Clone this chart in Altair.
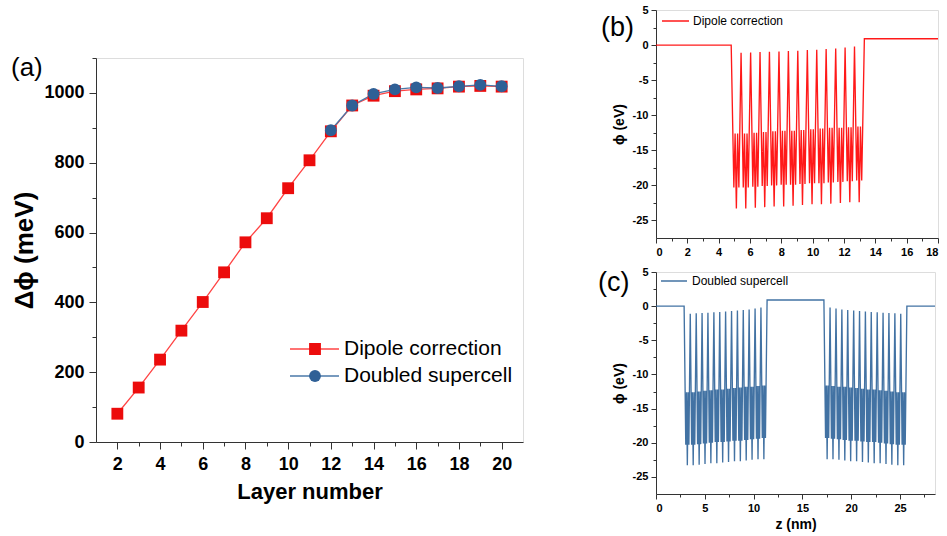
import altair as alt
import pandas as pd

FONT = "Liberation Sans"

# ---------------- Panel (a) ----------------
layer_dipole = [2, 3, 4, 5, 6, 7, 8, 9, 10, 11, 12, 13, 14, 15, 16, 17, 18, 19, 20]
dphi_dipole = [81, 156, 236, 319, 401, 486, 572, 641, 727, 807, 890, 964, 992, 1005, 1010, 1013, 1018, 1020, 1018]
layer_doubled = [12, 13, 14, 15, 16, 17, 18, 19, 20]
dphi_doubled = [893, 964, 997, 1010, 1016, 1014, 1019, 1023, 1019]
series_names = ["Dipole correction", "Doubled supercell"]
series_marker_colors = ["#ec0c0c", "#2f6096"]
series_line_colors = ["#ff4444", "#4a78a8"]

# ---------------- Panel (b): dipole correction profile ----------------
b_mo_z = [5.13, 5.73, 6.34, 6.94, 7.54, 8.15, 8.75, 9.35, 9.96, 10.56, 11.16, 11.77, 12.37, 12.97]
b_mo_phi = [-23.3, -23.3, -23.2, -23.1, -23.0, -23.0, -22.9, -22.8, -22.7, -22.7, -22.6, -22.5, -22.4, -22.4]
b_s_phi = [-20.3, -20.3, -20.2, -20.1, -20.0, -19.9, -19.9, -19.8, -19.7, -19.7, -19.6, -19.5, -19.4, -19.3]
b_mid_phi = [-12.6, -12.6, -12.5, -12.4, -12.3, -12.2, -12.2, -12.1, -12.0, -11.9, -11.8, -11.8, -11.7, -11.6]
b_gap_z = [5.43, 6.04, 6.64, 7.24, 7.85, 8.45, 9.05, 9.66, 10.26, 10.86, 11.47, 12.07, 12.67]
b_gap_phi = [-1.1, -1.05, -1.0, -0.95, -0.9, -0.85, -0.8, -0.7, -0.65, -0.55, -0.5, -0.35, -0.2]
b_edges_z = [0.0, 4.80, 13.30, 18.0]
b_edges_phi = [0.0, 0.0, 0.9, 0.9]

# ---------------- Panel (c): doubled supercell profile ----------------
c_left_mo_z = [3.21, 3.81, 4.42, 5.02, 5.62, 6.23, 6.83, 7.43, 8.04, 8.64, 9.24, 9.84, 10.45, 11.05]
c_left_mo_phi = [-23.3, -23.3, -23.2, -23.1, -23.0, -23.0, -22.9, -22.8, -22.7, -22.7, -22.6, -22.5, -22.4, -22.4]
c_left_s_phi = [-20.3, -20.3, -20.2, -20.1, -20.0, -19.9, -19.9, -19.8, -19.7, -19.7, -19.6, -19.5, -19.4, -19.3]
c_left_mid_phi = [-12.6, -12.6, -12.5, -12.4, -12.3, -12.2, -12.2, -12.1, -12.0, -11.9, -11.8, -11.8, -11.7, -11.6]
c_left_gap_z = [3.51, 4.12, 4.72, 5.32, 5.93, 6.53, 7.13, 7.74, 8.34, 8.94, 9.54, 10.15, 10.75]
c_left_gap_phi = [-1.1, -1.05, -1.0, -0.95, -0.9, -0.85, -0.8, -0.7, -0.65, -0.55, -0.5, -0.35, -0.2]
c_right_mo_z = [17.53, 18.13, 18.74, 19.34, 19.94, 20.55, 21.15, 21.75, 22.35, 22.96, 23.56, 24.16, 24.77, 25.37]
c_right_mo_phi = [-22.4, -22.4, -22.5, -22.6, -22.7, -22.7, -22.8, -22.9, -23.0, -23.0, -23.1, -23.2, -23.3, -23.3]
c_right_s_phi = [-19.3, -19.4, -19.5, -19.6, -19.7, -19.7, -19.8, -19.9, -19.9, -20.0, -20.1, -20.2, -20.3, -20.3]
c_right_mid_phi = [-11.6, -11.7, -11.8, -11.8, -11.9, -12.0, -12.1, -12.2, -12.2, -12.3, -12.4, -12.5, -12.6, -12.6]
c_right_gap_z = [17.83, 18.44, 19.04, 19.64, 20.25, 20.85, 21.45, 22.05, 22.66, 23.26, 23.86, 24.47, 25.07]
c_right_gap_phi = [-0.2, -0.35, -0.5, -0.55, -0.65, -0.7, -0.8, -0.85, -0.9, -0.95, -1.0, -1.05, -1.1]
c_edges_z = [0.0, 2.88, 11.38, 17.20, 25.70, 28.58]
c_edges_phi = [0.0, 0.0, 0.9, 0.9, 0.0, 0.0]

# offsets of the S and inter-atomic maxima from each Mo plane (nm)
s_offset = 0.16
mid_offset = 0.08


def layer_points(mo_z, mo_phi, s_phi, mid_phi, gap_z, gap_phi):
    pts = []
    n = len(mo_z)
    for i in range(n):
        c = mo_z[i]
        pts += [(c - s_offset, s_phi[i]), (c - mid_offset, mid_phi[i]), (c, mo_phi[i]),
                (c + mid_offset, mid_phi[i]), (c + s_offset, s_phi[i])]
        if i < n - 1:
            pts.append((gap_z[i], gap_phi[i]))
    return pts


b_pts = ([(b_edges_z[0], b_edges_phi[0]), (b_edges_z[1], b_edges_phi[1])]
         + layer_points(b_mo_z, b_mo_phi, b_s_phi, b_mid_phi, b_gap_z, b_gap_phi)
         + [(b_edges_z[2], b_edges_phi[2]), (b_edges_z[3], b_edges_phi[3])])
c_pts = ([(c_edges_z[0], c_edges_phi[0]), (c_edges_z[1], c_edges_phi[1])]
         + layer_points(c_left_mo_z, c_left_mo_phi, c_left_s_phi, c_left_mid_phi, c_left_gap_z, c_left_gap_phi)
         + [(c_edges_z[2], c_edges_phi[2]), (c_edges_z[3], c_edges_phi[3])]
         + layer_points(c_right_mo_z, c_right_mo_phi, c_right_s_phi, c_right_mid_phi, c_right_gap_z, c_right_gap_phi)
         + [(c_edges_z[4], c_edges_phi[4]), (c_edges_z[5], c_edges_phi[5])])

df_b = pd.DataFrame({"i": range(len(b_pts)), "z": [p[0] for p in b_pts], "phi": [p[1] for p in b_pts],
                     "s": "Dipole correction"})
df_c = pd.DataFrame({"i": range(len(c_pts)), "z": [p[0] for p in c_pts], "phi": [p[1] for p in c_pts],
                     "s": "Doubled supercell"})

rows = []
for l, v in zip(layer_dipole, dphi_dipole):
    rows.append({"layer": l, "dphi": v, "series": series_names[0], "series_l": series_names[0]})
for l, v in zip(layer_doubled, dphi_doubled):
    rows.append({"layer": l, "dphi": v, "series": series_names[1], "series_l": series_names[1]})
df_a = pd.DataFrame(rows)

axis_common = dict(grid=False, labelFont=FONT, labelFontWeight="bold", labelColor="black",
                   titleFont=FONT, titleFontWeight="bold", titleColor="black",
                   domainColor="#333", tickColor="#333", domainWidth=1, tickWidth=1)

# ---------- chart (a) ----------
xa = alt.X("layer:Q", scale=alt.Scale(domain=[1, 21], nice=False, zero=False),
           axis=alt.Axis(values=list(range(2, 21)), format="d",
                         labelExpr="datum.value % 2 == 0 ? datum.label : ''",
                         tickSize={"condition": {"test": "datum.value % 2 == 1", "value": 4}, "value": 7},
                         labelFontSize=18, labelPadding=6, title="Layer number", titleFontSize=22,
                         titlePadding=8, **axis_common))
ya = alt.Y("dphi:Q", scale=alt.Scale(domain=[0, 1100], nice=False),
           axis=alt.Axis(values=list(range(0, 1101, 100)), format="d",
                         labelExpr="datum.value % 200 == 0 ? datum.label : ''",
                         tickSize={"condition": {"test": "datum.value % 200 != 0", "value": 4}, "value": 7},
                         labelFontSize=18, labelPadding=5, title="Δϕ (meV)", titleFontSize=26,
                         titlePadding=6, **axis_common))

lines_a = alt.Chart(df_a).mark_line(strokeWidth=1.3).encode(
    x=xa, y=ya,
    stroke=alt.Stroke("series_l:N", scale=alt.Scale(range=series_line_colors),
                      legend=alt.Legend(title=None, orient="none", legendX=193, legendY=277.5,
                                        symbolType="stroke", symbolSize=2401, symbolStrokeWidth=1.5,
                                        labelFont=FONT, labelFontSize=21, labelColor="black",
                                        labelLimit=0, labelOffset=4, clipHeight=27, rowPadding=0,
                                        padding=0)),
    detail="series_l:N",
)
point_legend = dict(title=None, orient="none", legendX=208.5, legendY=277.5,
                    symbolSize=140, symbolStrokeWidth=0, labelExpr="''", labelLimit=0,
                    labelFont=FONT, labelFontSize=21, clipHeight=27, rowPadding=0, padding=0)
points_a = alt.Chart(df_a).mark_point(filled=True, size=140, opacity=1).encode(
    x=xa, y=ya,
    color=alt.Color("series:N", scale=alt.Scale(domain=series_names, range=series_marker_colors),
                    legend=alt.Legend(**point_legend)),
    shape=alt.Shape("series:N", scale=alt.Scale(domain=series_names, range=["square", "circle"]),
                    legend=alt.Legend(**point_legend)),
)
label_df = pd.DataFrame({"t": ["(a)"]})
label_a = alt.Chart(label_df).mark_text(font=FONT, fontSize=26, align="left", baseline="middle",
                                        color="black").encode(
    x=alt.value(-85), y=alt.value(10), text="t:N")

chart_a = alt.layer(lines_a, points_a, label_a).properties(width=427, height=384)

spacer_df = pd.DataFrame({"t": [""]})
spacer = alt.Chart(spacer_df).mark_text(opacity=0).encode(
    x=alt.value(0), y=alt.value(0), text="t:N"
).properties(width=427, height=1, view=alt.ViewBackground(strokeOpacity=0))

left = alt.vconcat(spacer, chart_a, spacing=39).resolve_scale(
    stroke="independent", color="independent", shape="independent")

# ---------- charts (b) and (c) ----------
small_axis = dict(axis_common, labelFontSize=11)


def y_small():
    return alt.Y("phi:Q", scale=alt.Scale(domain=[-27.5, 5], nice=False, zero=False),
                 axis=alt.Axis(values=[-25 + 2.5 * k for k in range(13)],
                               labelExpr="datum.value % 5 == 0 ? '' + datum.value : ''",
                               tickSize={"condition": {"test": "datum.value % 5 != 0", "value": 3}, "value": 5},
                               labelPadding=3, title="ϕ (eV)", titleFontSize=14, titlePadding=6,
                               **small_axis))


xb = alt.X("z:Q", scale=alt.Scale(domain=[0, 18], nice=False, zero=False),
           axis=alt.Axis(values=list(range(0, 19)),
                         labelExpr="datum.value % 2 == 0 ? '' + datum.value : ''",
                         tickSize={"condition": {"test": "datum.value % 2 == 1", "value": 3}, "value": 5},
                         labelPadding=3, title=None, **small_axis))
line_b = alt.Chart(df_b).mark_line(strokeWidth=1.35, opacity=0.9).encode(
    x=xb, y=y_small(), order="i:Q",
    stroke=alt.Stroke("s:N", scale=alt.Scale(domain=["Dipole correction"], range=["#ff0000"]),
                      legend=alt.Legend(title=None, orient="none", legendX=5, legendY=4,
                                        symbolType="stroke", symbolSize=729, symbolStrokeWidth=1.5,
                                        labelFont=FONT, labelFontSize=12, labelColor="black",
                                        labelLimit=0, labelOffset=3, clipHeight=14, padding=0)),
)
lab_b_df = pd.DataFrame({"t": ["(b)"]})
label_b = alt.Chart(lab_b_df).mark_text(font=FONT, fontSize=27, align="left", baseline="middle",
                                        color="black").encode(
    x=alt.value(-55), y=alt.value(18), text="t:N")
chart_b = alt.layer(line_b, label_b).properties(width=282, height=228)

xc = alt.X("z:Q", scale=alt.Scale(domain=[0, 28.58], nice=False, zero=False),
           axis=alt.Axis(values=[2.5 * k for k in range(12)],
                         labelExpr="datum.value % 5 == 0 ? '' + datum.value : ''",
                         tickSize={"condition": {"test": "datum.value % 5 != 0", "value": 3}, "value": 5},
                         labelPadding=3, title="z (nm)", titleFontSize=14, titlePadding=4,
                         **small_axis))
line_c = alt.Chart(df_c).mark_line(strokeWidth=1.35, opacity=0.9).encode(
    x=xc, y=y_small(), order="i:Q",
    stroke=alt.Stroke("s:N", scale=alt.Scale(domain=["Doubled supercell"], range=["#2e6399"]),
                      legend=alt.Legend(title=None, orient="none", legendX=4, legendY=2,
                                        symbolType="stroke", symbolSize=676, symbolStrokeWidth=1.5,
                                        labelFont=FONT, labelFontSize=12, labelColor="black",
                                        labelLimit=0, labelOffset=4, clipHeight=14, padding=0)),
)
lab_c_df = pd.DataFrame({"t": ["(c)"]})
label_c = alt.Chart(lab_c_df).mark_text(font=FONT, fontSize=27, align="left", baseline="middle",
                                        color="black").encode(
    x=alt.value(-58), y=alt.value(11), text="t:N")
chart_c = alt.layer(line_c, label_c).properties(width=279, height=222)

right = alt.vconcat(chart_b, chart_c, spacing=7).resolve_scale(stroke="independent", y="independent",
                                                                x="independent")

chart = alt.hconcat(left, right, spacing=73).resolve_scale(
    stroke="independent", color="independent", shape="independent", x="independent", y="independent"
).properties(
    padding={"left": 10, "top": 3, "right": 0, "bottom": 0}
).configure_view(stroke="#333", strokeWidth=1).configure(background="white")

chart.save("out.html", embed_options={"renderer": "svg", "actions": False})
